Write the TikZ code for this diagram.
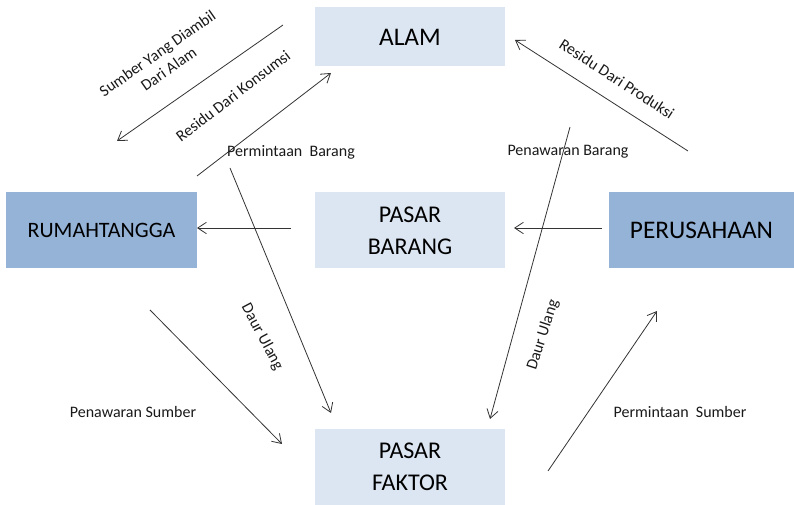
\documentclass[tikz,border=0pt]{standalone}
\usepackage{fontspec}
\setmainfont{Carlito}
\usetikzlibrary{arrows.meta}
\definecolor{lightbox}{RGB}{220,230,242}
\definecolor{darkbox}{RGB}{149,179,215}
\tikzset{
  lbox/.style={fill=lightbox, draw=none, inner sep=0pt, align=center, font=\fontsize{18}{24}\selectfont},
  dbox/.style={fill=darkbox, draw=none, inner sep=0pt, align=center, font=\fontsize{18}{24}\selectfont},
  conn/.style={line width=0.6pt, draw=black!80, -{Straight Barb[length=6.5pt,width=8.5pt,line width=0.6pt]}},
  lbl/.style={font=\fontsize{12}{14.5}\selectfont, inner sep=0pt, align=center, text=black!90},
}
\begin{document}
\begin{tikzpicture}[x=0.75pt,y=-0.75pt]
\useasboundingbox (0,0) rectangle (794,505);
% boxes
\node[lbox, minimum width=142.5pt, minimum height=44.25pt, font=\fontsize{19}{24}\selectfont] (alam) at (410,37) {ALAM};
\node[lbox, minimum width=142.5pt, minimum height=57pt] (barang) at (410,230.5) {PASAR\\BARANG};
\node[lbox, minimum width=142.5pt, minimum height=57pt] (faktor) at (410,467) {PASAR\\FAKTOR};
\node[dbox, minimum width=143.25pt, minimum height=57pt, font=\fontsize{16.5}{24}\selectfont] (rt) at (101.5,230.5) {RUMAHTANGGA};
\node[dbox, minimum width=138.75pt, minimum height=57pt, font=\fontsize{19}{24}\selectfont] (pr) at (701.5,230.5) {PERUSAHAAN};
% coordinates
\coordinate (a1s) at (291,228); \coordinate (a1e) at (197,228);
\coordinate (a2s) at (602,228); \coordinate (a2e) at (514,228);
\coordinate (sds) at (283,25);  \coordinate (sde) at (117,141);
\coordinate (rks) at (197,176); \coordinate (rke) at (331,73);
\coordinate (rps) at (688,151); \coordinate (rpe) at (515,40);
\coordinate (pbs) at (230,168); \coordinate (pbe) at (331,413);
\coordinate (pws) at (570,127); \coordinate (pwe) at (490,419);
\coordinate (pss) at (150,310); \coordinate (pse) at (282,444);
\coordinate (pms) at (548,471); \coordinate (pme) at (657,311);
% connectors
\draw[conn] (a1s) -- (a1e);
\draw[conn] (a2s) -- (a2e);
\draw[conn] (sds) -- (sde);
\draw[conn] (rks) -- (rke);
\draw[conn] (rps) -- (rpe);
\draw[conn] (pbs) -- (pbe);
\draw[conn] (pws) -- (pwe);
\draw[conn] (pss) -- (pse);
\draw[conn] (pms) -- (pme);
% labels
\node[lbl, rotate=35] (l1) at (163,61) {Sumber Yang Diambil\\Dari Alam};
\node[lbl, rotate=37.5] (l2) at (233,96) {Residu Dari Konsumsi};
\node[lbl, rotate=-33] (l3) at (617,79) {Residu Dari Produksi};
\node[lbl] (l4) at (291,152) {Permintaan\ \ Barang};
\node[lbl] (l5) at (568,152) {Penawaran Barang};
\node[lbl, rotate=-62] (l6) at (262,337) {Daur Ulang};
\node[lbl, rotate=72] (l7) at (543,335) {Daur Ulang};
\node[lbl] (l8) at (133,412) {Penawaran Sumber};
\node[lbl] (l9) at (680,412) {Permintaan\ \ Sumber};
\end{tikzpicture}
\end{document}
